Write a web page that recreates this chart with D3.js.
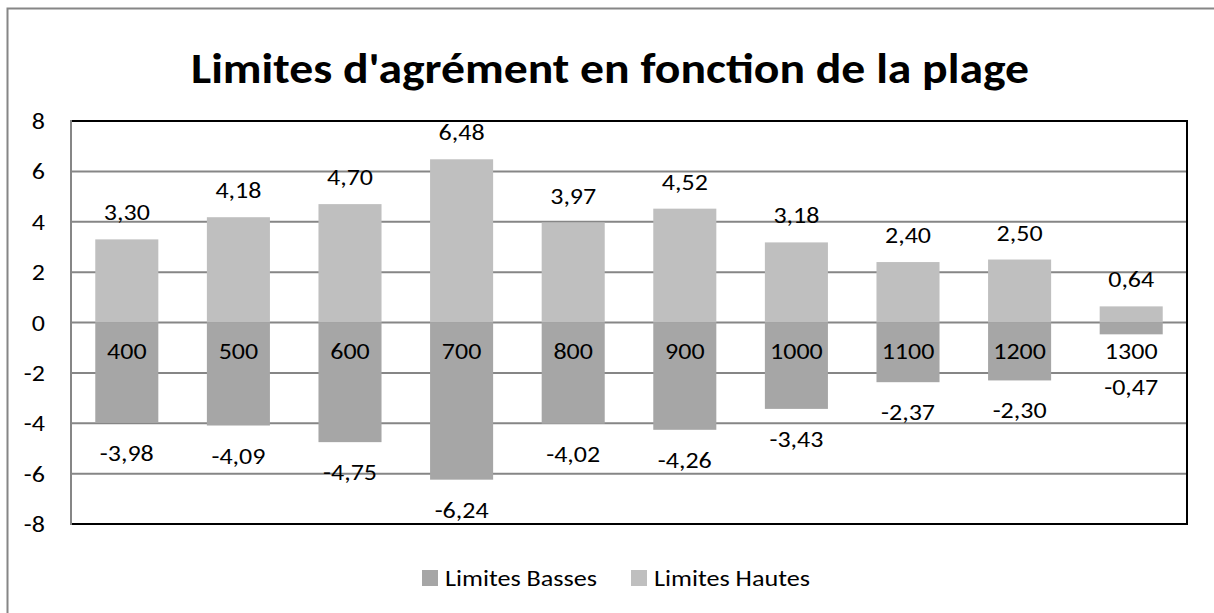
<!DOCTYPE html>
<html lang="fr">
<head>
<meta charset="utf-8">
<title>Limites d'agrément</title>
<script src="https://cdn.jsdelivr.net/npm/d3@7"></script>
<style>
  body { margin: 0; background: #fff; }
  svg text { font-family: Carlito, Lato, "Open Sans", sans-serif; fill: #000; }
</style>
</head>
<body>
<script>
// data
var plages = ["400", "500", "600", "700", "800", "900", "1000", "1100", "1200", "1300"];
var hautes = [3.30, 4.18, 4.70, 6.48, 3.97, 4.52, 3.18, 2.40, 2.50, 0.64];
var basses = [-3.98, -4.09, -4.75, -6.24, -4.02, -4.26, -3.43, -2.37, -2.30, -0.47];
var yTicks = [-8, -6, -4, -2, 0, 2, 4, 6, 8];
var seriesNames = ["Limites Basses", "Limites Hautes"];

var W = 1214, H = 613;
var pLeft = 71, pRight = 1187, pTop = 121, pBottom = 524;
var cBas = "#a6a6a6", cHaut = "#bfbfbf", cGrid = "#868686";
var sx = 1.13; // the reference text is wider than Lato

var fmt = function(v) { return v.toFixed(2).replace(".", ","); };

var svg = d3.select("body").append("svg")
    .attr("width", W).attr("height", H);

// helper: text placed at (x,y), stretched horizontally
function label(parent, x, y, txt, size, anchor, stretch) {
    var g = parent.append("g")
        .attr("transform", "translate(" + x + "," + y + ") scale(" + (stretch || sx) + ",1)");
    return g.append("text")
        .attr("dy", "0.35em")
        .attr("text-anchor", anchor || "middle")
        .attr("font-size", size)
        .text(txt);
}

// outer chart border
svg.append("rect")
    .attr("x", 7.5).attr("y", 8.5)
    .attr("width", W + 20).attr("height", H + 20)
    .attr("fill", "none").attr("stroke", cGrid).attr("stroke-width", 2);

label(svg, 610, 68, "Limites d'agrément en fonction de la plage", 42, "middle", 1.135)
    .attr("font-weight", "bold");

var x = d3.scaleBand().domain(plages).range([pLeft, pRight]).paddingInner(0.435).paddingOuter(0.2175);
var y = d3.scaleLinear().domain([-8, 8]).range([pBottom, pTop]);

// gridlines
svg.append("g").selectAll("line").data(yTicks).enter().append("line")
    .attr("x1", pLeft).attr("x2", pRight)
    .attr("y1", function(d) { return y(d); }).attr("y2", function(d) { return y(d); })
    .attr("stroke", cGrid).attr("stroke-width", 2);

// y axis labels
var ga = svg.append("g");
yTicks.forEach(function(t) { label(ga, 45, y(t), String(t), 23, "end"); });

// bars
svg.append("g").selectAll("rect").data(plages).enter().append("rect")
    .attr("x", function(d) { return x(d); })
    .attr("width", x.bandwidth())
    .attr("y", function(d, i) { return y(hautes[i]); })
    .attr("height", function(d, i) { return y(0) - y(hautes[i]); })
    .attr("fill", cHaut);

svg.append("g").selectAll("rect").data(plages).enter().append("rect")
    .attr("x", function(d) { return x(d); })
    .attr("width", x.bandwidth())
    .attr("y", y(0))
    .attr("height", function(d, i) { return y(basses[i]) - y(0); })
    .attr("fill", cBas);

// frame
svg.append("path")
    .attr("d", "M" + pLeft + "," + pTop + "H" + pRight + "V" + pBottom + "H" + pLeft)
    .attr("fill", "none").attr("stroke", "#000").attr("stroke-width", 2);
svg.append("line")
    .attr("x1", pLeft).attr("x2", pLeft).attr("y1", pTop - 1).attr("y2", pBottom + 1)
    .attr("stroke", cGrid).attr("stroke-width", 2);

var catY = y(0) + 28;
var gl = svg.append("g");
plages.forEach(function(p, i) {
    var cx = x(p) + x.bandwidth() / 2;
    label(gl, cx, catY, p, 23);
    label(gl, cx, y(hautes[i]) - 27, fmt(hautes[i]), 23);
    label(gl, cx, Math.max(y(basses[i]) + 30, catY + 36), fmt(basses[i]), 23);
});

// legend
var leg = svg.append("g");
seriesNames.forEach(function(s, i) {
    var lx = 422 + i * 209;
    leg.append("rect").attr("x", lx).attr("y", 570).attr("width", 16).attr("height", 16)
        .attr("fill", i === 0 ? cBas : cHaut);
    label(leg, lx + 23, 578, s, 22, "start", 1.19);
});
</script>
</body>
</html>
